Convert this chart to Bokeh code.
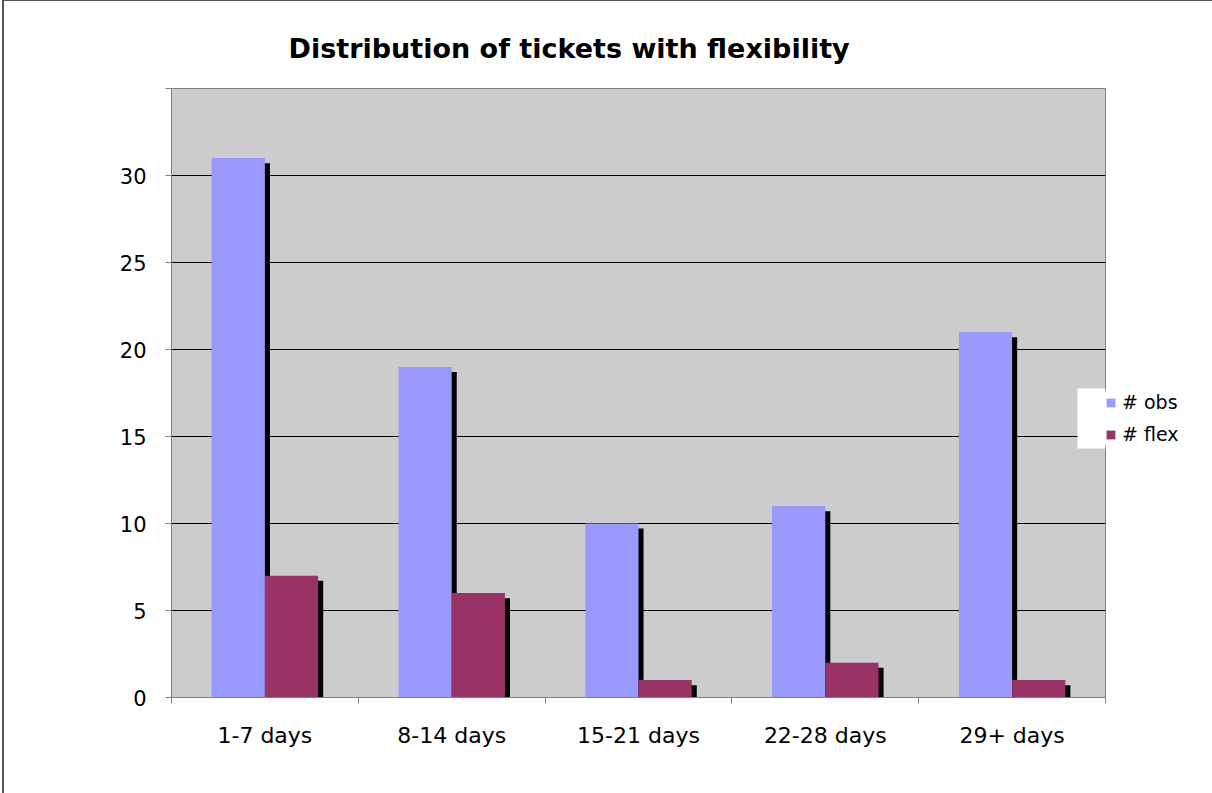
from bokeh.plotting import figure
from bokeh.models import (FixedTicker, Legend, LegendItem, BoxAnnotation,
                          Range1d)
from bokeh.embed import file_html
from bokeh.resources import INLINE

# --- data -------------------------------------------------------------
categories = ["1-7 days", "8-14 days", "15-21 days", "22-28 days", "29+ days"]
obs = [31, 19, 10, 11, 21]
flex = [7, 6, 1, 2, 1]
y_ticks = [0, 5, 10, 15, 20, 25, 30, 35]

FONT = "DejaVu Sans"
OBS_COLOR = "#9999FF"
FLEX_COLOR = "#993366"
BAR_W = 0.285          # width of one bar, in category units
SHADOW_DX = 0.027      # drop-shadow offset, x (category units)
SHADOW_DY = 0.29       # drop-shadow offset, y (value units)

n = len(categories)
centers = [i + 0.5 for i in range(n)]

p = figure(frame_width=934, frame_height=609,
           output_backend="svg", toolbar_location=None,
           x_range=Range1d(0, n), y_range=Range1d(0, 35),
           min_border_left=167, min_border_right=105,
           min_border_top=87, min_border_bottom=96,
           background_fill_color="#CCCCCC", border_fill_color="white",
           title="Distribution of tickets with flexibility")

p.styles = {"margin-left": "2px", "border-left": "2px solid #555555",
            "border-top": "1px solid #555555", "border-right": "1px solid #555555"}

p.outline_line_color = "#808080"
p.outline_line_width = 1

# title
p.title.text_font = FONT
p.title.text_font_size = "27px"
p.title.text_font_style = "bold"
p.title.text_color = "black"
p.title.align = "left"
p.title.offset = 117
p.title.standoff = 50

# --- bars with drop shadows --------------------------------------------
obs_left = [c - BAR_W for c in centers]
obs_right = centers
flex_left = centers
flex_right = [c + BAR_W for c in centers]

for left, right, vals in ((obs_left, obs_right, obs), (flex_left, flex_right, flex)):
    p.quad(left=[l + SHADOW_DX for l in left], right=[r + SHADOW_DX for r in right],
           bottom=0, top=[v - SHADOW_DY for v in vals],
           fill_color="black", line_color=None)

r_obs = p.quad(left=obs_left, right=obs_right, bottom=0, top=obs,
               fill_color=OBS_COLOR, line_color=None)
r_flex = p.quad(left=flex_left, right=flex_right, bottom=0, top=flex,
                fill_color=FLEX_COLOR, line_color=None)

# --- axes ---------------------------------------------------------------
xa = p.xaxis[0]
xa.ticker = FixedTicker(ticks=centers, minor_ticks=list(range(n + 1)))
xa.major_label_overrides = {c: lab for c, lab in zip(centers, categories)}
xa.major_tick_out = 0
xa.major_tick_in = 0
xa.minor_tick_out = 6
xa.minor_tick_in = 0
xa.minor_tick_line_color = "#808080"
xa.axis_line_color = "#808080"
xa.major_label_text_font = FONT
xa.major_label_text_font_size = "22px"
xa.major_label_text_color = "black"
xa.major_label_standoff = 19

ya = p.yaxis[0]
ya.ticker = FixedTicker(ticks=y_ticks)
ya.major_label_overrides = {35: ""}
ya.major_tick_out = 6
ya.major_tick_in = 0
ya.minor_tick_line_color = None
ya.major_tick_line_color = "#808080"
ya.axis_line_color = "#808080"
ya.major_label_text_font = FONT
ya.major_label_text_font_size = "21px"
ya.major_label_text_color = "black"
ya.major_label_standoff = 19

p.xgrid.grid_line_color = None
p.ygrid.grid_line_color = "black"
p.ygrid.grid_line_width = 1

# --- legend -------------------------------------------------------------
# white backing that reaches into the plot area next to the legend
p.add_layout(BoxAnnotation(left=4.85, right=n, bottom=14.31, top=17.76,
                           fill_color="white", fill_alpha=1, line_color=None))

legend = Legend(items=[LegendItem(label="# obs", renderers=[r_obs]),
                       LegendItem(label="# flex", renderers=[r_flex])],
                location=(0, 252), padding=0, spacing=10,
                glyph_width=11, glyph_height=11, label_height=20,
                label_standoff=6, background_fill_color="white",
                background_fill_alpha=1, border_line_color=None,
                label_text_font=FONT, label_text_font_size="19px",
                label_text_color="black", margin=0, label_width=70)
p.add_layout(legend, "right")

open("out.html", "w").write(file_html(p, INLINE))
